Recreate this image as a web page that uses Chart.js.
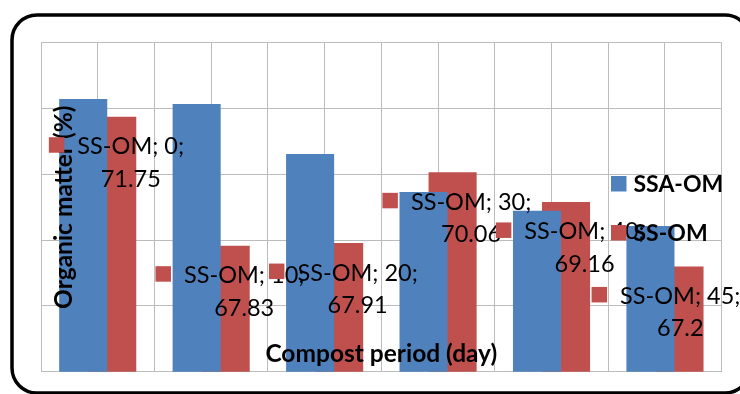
<!DOCTYPE html>
<html>
<head>
<meta charset="utf-8">
<script src="https://cdn.jsdelivr.net/npm/chart.js@4/dist/chart.umd.min.js"></script>
<style>
  html, body { margin: 0; padding: 0; background: #ffffff; }
  #wrap { width: 740px; height: 394px; position: relative; overflow: hidden; }
</style>
</head>
<body>
<div id="wrap"><canvas id="chart" width="740" height="394"></canvas></div>
<script>
// Compost period (days) and organic matter content (%) of the two treatments
const days = ['0', '10', '20', '30', '40', '45'];
const ssaOM = [72.29, 72.14, 70.62, 69.46, 68.89, 68.43];
const ssOM = [71.75, 67.83, 67.91, 70.06, 69.16, 67.2];
const seriesNames = ['SSA-OM', 'SS-OM'];
const yTicks = [64, 66, 68, 70, 72, 74];
const xTitle = 'Compost period (day)';
const yTitle = 'Organic matter (%)';

const BLUE = '#4F81BD';
const RED = '#C0504D';
const GRID = '#bcbcbc';
const FONT = 'Lato, "Open Sans", "DejaVu Sans", sans-serif';

function capAscent(ctx) {
  return ctx.measureText('S').actualBoundingBoxAscent;
}

// Axis titles, data labels with legend keys, floating legend and the rounded frame
const overlay = {
  id: 'overlay',
  afterDraw(chart) {
    const ctx = chart.ctx;
    const area = chart.chartArea;
    ctx.save();

    // axis titles, drawn inside the plot area
    ctx.fillStyle = '#000';
    ctx.font = 'bold 24.5px ' + FONT;
    ctx.textAlign = 'center';
    ctx.textBaseline = 'alphabetic';
    let asc = capAscent(ctx);
    ctx.fillText(xTitle, (area.left + area.right) / 2, 352.5 + asc / 2);
    ctx.save();
    ctx.translate(62.5, (area.top + area.bottom) / 2);
    ctx.rotate(-Math.PI / 2);
    ctx.fillText(yTitle, 0, asc / 2);
    ctx.restore();

    // data labels of the SS-OM series: "name; day;" / value, with a legend key
    const meta = chart.getDatasetMeta(1);
    const ds = chart.data.datasets[1];
    ctx.font = '23.5px ' + FONT;
    asc = capAscent(ctx);
    meta.data.forEach((bar, i) => {
      const line1 = ds.label + '; ' + chart.data.labels[i] + ';';
      const line2 = String(ds.data[i]);
      const w = Math.max(ctx.measureText(line1).width, ctx.measureText(line2).width);
      let cx = bar.x + 18.5;
      if (cx + w / 2 > chart.width + 0.5) cx = chart.width + 0.5 - w / 2;
      const top = bar.y + 20.5;
      ctx.fillStyle = RED;
      ctx.fillRect(cx - w / 2 - 13 - 15.5, top, 15.5, 15.5);
      ctx.fillStyle = '#000';
      ctx.textAlign = 'center';
      ctx.fillText(line1, cx, top + asc);
      ctx.fillText(line2, cx, top + 32.5 + asc);
    });

    // legend
    ctx.font = 'bold 23px ' + FONT;
    asc = capAscent(ctx);
    ctx.textAlign = 'left';
    const rows = [183.5, 232.5];
    chart.data.datasets.forEach((d, k) => {
      const cy = rows[k];
      ctx.fillStyle = d.backgroundColor;
      ctx.fillRect(611, cy - 7.5, 15.5, 15.5);
      ctx.fillStyle = '#000';
      ctx.fillText(d.label, 633.5, cy + asc / 2);
    });

    // rounded outer frame
    ctx.strokeStyle = '#000';
    ctx.lineWidth = 3.5;
    ctx.beginPath();
    ctx.roundRect(12, 15, 738, 378, 25);
    ctx.stroke();
    ctx.restore();
  }
};

new Chart(document.getElementById('chart'), {
  type: 'bar',
  data: {
    labels: days,
    datasets: [
      { label: seriesNames[0], data: ssaOM, backgroundColor: BLUE, borderWidth: 0, xAxisID: 'x' },
      { label: seriesNames[1], data: ssOM, backgroundColor: RED, borderWidth: 0, xAxisID: 'x' }
    ]
  },
  options: {
    responsive: false,
    animation: false,
    devicePixelRatio: 1,
    layout: { padding: { left: 41, top: 42.7, right: 18.3, bottom: 22.3 } },
    datasets: { bar: { categoryPercentage: 0.512, barPercentage: 1.655 } },
    plugins: { legend: { display: false }, tooltip: { enabled: false } },
    scales: {
      x: { display: false, offset: true },
      // vertical grid: category boundaries plus a line through each category centre
      xGrid: {
        type: 'linear', position: 'bottom', min: 0, max: days.length * 2,
        offset: false,
        afterBuildTicks(scale) {
          scale.ticks = Array.from({ length: days.length * 2 + 1 }, (_, k) => ({ value: k }));
        },
        ticks: { display: false },
        grid: { color: GRID, lineWidth: 1, drawTicks: false, offset: false },
        border: { display: false }
      },
      y: {
        min: yTicks[0], max: yTicks[yTicks.length - 1],
        afterBuildTicks(scale) { scale.ticks = yTicks.map(v => ({ value: v })); },
        ticks: { display: false },
        grid: { color: GRID, lineWidth: 1, drawTicks: false },
        border: { display: false }
      }
    }
  },
  plugins: [overlay]
});
</script>
</body>
</html>
